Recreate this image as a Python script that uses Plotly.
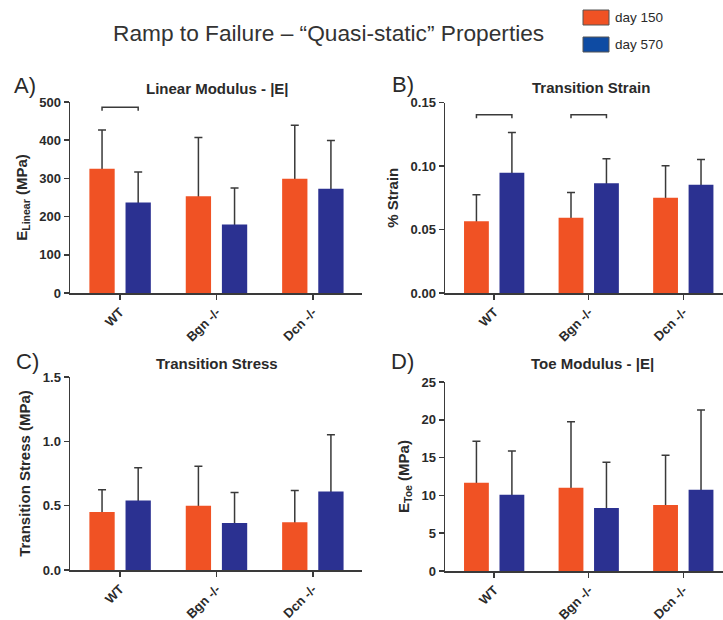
import plotly.graph_objects as go

# ---------------- data ----------------
categories = ["WT", "Bgn -/-", "Dcn -/-"]
series_names = ["day 150", "day 570"]

linear_d150 = [325, 253, 299]
linear_d150_sd = [102, 154, 140]
linear_d570 = [237, 179, 273]
linear_d570_sd = [80, 96, 126]

strain_d150 = [0.0564, 0.0593, 0.0750]
strain_d150_sd = [0.0210, 0.0199, 0.0252]
strain_d570 = [0.0947, 0.0865, 0.0852]
strain_d570_sd = [0.0317, 0.0192, 0.0200]

stress_d150 = [0.450, 0.499, 0.372]
stress_d150_sd = [0.173, 0.308, 0.246]
stress_d570 = [0.540, 0.365, 0.610]
stress_d570_sd = [0.254, 0.238, 0.442]

toe_d150 = [11.68, 11.02, 8.73]
toe_d150_sd = [5.47, 8.73, 6.57]
toe_d570 = [10.10, 8.33, 10.76]
toe_d570_sd = [5.77, 6.04, 10.54]

# significance brackets: (category index, level)
linear_brackets = [(0, 486)]
strain_brackets = [(0, 0.1403), (1, 0.1403)]

# ---------------- style ----------------
W, H = 723, 620
FONT = "Liberation Sans, Arial, sans-serif"
TXT = "#2a2a2a"
AX = "#3a3a3a"
ORANGE = "#F05224"
BLUE = "#2B3191"
LEG_BLUE = "#0E4BA3"
ERR = "#3a3a3a"


def fx(px):
    return px / W


def fy(px):
    return 1 - px / H


panels = [
    dict(title="Linear Modulus - |E|", label="A)", ytitle="E<sub>Linear</sub> (MPa)",
         d1=linear_d150, e1=linear_d150_sd, d2=linear_d570, e2=linear_d570_sd,
         yrange=[0, 500], dtick=100, fmt="d",
         xdom=(70, 362), ydom=(102, 293), xrange=[-0.52, 2.51],
         title_xy=(217, 88), label_xy=(25, 85), brackets=linear_brackets, drop=9),
    dict(title="Transition Strain", label="B)", ytitle="% Strain",
         d1=strain_d150, e1=strain_d150_sd, d2=strain_d570, e2=strain_d570_sd,
         yrange=[0, 0.15], dtick=0.05, fmt=".2f",
         xdom=(445, 723), ydom=(102.5, 293), xrange=[-0.52, 2.42],
         title_xy=(591, 87), label_xy=(403, 84), brackets=strain_brackets, drop=0.0027),
    dict(title="Transition Stress", label="C)", ytitle="Transition Stress (MPa)",
         d1=stress_d150, e1=stress_d150_sd, d2=stress_d570, e2=stress_d570_sd,
         yrange=[0, 1.5], dtick=0.5, fmt=".1f",
         xdom=(70, 362), ydom=(377, 570), xrange=[-0.52, 2.51],
         title_xy=(217, 363), label_xy=(27, 361), brackets=[], drop=0),
    dict(title="Toe Modulus - |E|", label="D)", ytitle="E<sub>Toe</sub> (MPa)",
         d1=toe_d150, e1=toe_d150_sd, d2=toe_d570, e2=toe_d570_sd,
         yrange=[0, 25], dtick=5, fmt="d",
         xdom=(445, 723), ydom=(382, 571), xrange=[-0.52, 2.42],
         title_xy=(592, 363), label_xy=(402, 361), brackets=[], drop=0),
]

fig = go.Figure()
annotations = []
shapes = []
xs = list(range(len(categories)))

for i, p in enumerate(panels):
    n = "" if i == 0 else str(i + 1)
    xa, ya = "x" + n, "y" + n
    series = [(p["d1"], p["e1"], series_names[0], ORANGE),
              (p["d2"], p["e2"], series_names[1], BLUE)]
    # error bars first (transparent bars), so the real bars cover their lower half
    for vals, errs, name, col in series:
        fig.add_trace(go.Bar(
            x=xs, y=vals, name=name, xaxis=xa, yaxis=ya, showlegend=False,
            offsetgroup=name, hoverinfo="skip",
            marker=dict(color="rgba(0,0,0,0)", line=dict(width=0)),
            error_y=dict(type="data", symmetric=False, array=errs, arrayminus=vals,
                         color=ERR, thickness=1.5, width=4),
        ))
    for vals, errs, name, col in series:
        fig.add_trace(go.Bar(
            x=xs, y=vals, name=name, xaxis=xa, yaxis=ya, showlegend=False,
            offsetgroup=name,
            marker=dict(color=col, line=dict(width=0)),
        ))
    fig.layout["xaxis" + n] = dict(
        domain=[fx(p["xdom"][0]), fx(p["xdom"][1])], anchor=ya, range=p["xrange"],
        tickvals=xs, ticktext=categories, tickangle=-45,
        showline=True, linecolor=AX, linewidth=1.5, ticks="outside", ticklen=5,
        tickwidth=1.5, tickcolor=AX, showgrid=False, zeroline=False, automargin=False,
        tickfont=dict(family=FONT, size=13, color=TXT, weight="bold"), fixedrange=True,
    )
    fig.layout["yaxis" + n] = dict(
        domain=[fy(p["ydom"][1]), fy(p["ydom"][0])], anchor=xa, range=p["yrange"],
        dtick=p["dtick"], tick0=0, tickformat=p["fmt"],
        showline=True, linecolor=AX, linewidth=1.5, ticks="outside", ticklen=5,
        tickwidth=1.5, tickcolor=AX, showgrid=False, zeroline=False, automargin=False,
        tickfont=dict(family=FONT, size=13, color=TXT, weight="bold"),
        title=dict(text=p["ytitle"], standoff=8,
                   font=dict(family=FONT, size=15, color=TXT, weight="bold")),
    )
    annotations.append(dict(
        text=p["title"], x=fx(p["title_xy"][0]), y=fy(p["title_xy"][1]),
        xref="paper", yref="paper", xanchor="center", yanchor="middle", showarrow=False,
        font=dict(family=FONT, size=15, color=TXT, weight="bold")))
    annotations.append(dict(
        text=p["label"], x=fx(p["label_xy"][0]), y=fy(p["label_xy"][1]),
        xref="paper", yref="paper", xanchor="center", yanchor="middle", showarrow=False,
        font=dict(family=FONT, size=22, color=TXT)))
    for (ci, lvl) in p["brackets"]:
        x0, x1 = ci - 0.1875, ci + 0.1875
        y1 = lvl - p["drop"]
        shapes.append(dict(type="path", xref=xa, yref=ya,
                           path=f"M {x0},{y1} L {x0},{lvl} L {x1},{lvl} L {x1},{y1}",
                           line=dict(color=AX, width=1.5)))

# main title
annotations.append(dict(
    text="Ramp to Failure \u2013 \u201cQuasi-static\u201d Properties",
    x=fx(328), y=fy(33), xref="paper", yref="paper", xanchor="center", yanchor="middle",
    showarrow=False, font=dict(family=FONT, size=22.7, color="#333333")))

# legend swatches
for name, col, top in [(series_names[0], ORANGE, 10), (series_names[1], LEG_BLUE, 37)]:
    shapes.append(dict(type="rect", xref="paper", yref="paper",
                       x0=fx(583), x1=fx(609), y0=fy(top + 15), y1=fy(top),
                       fillcolor=col, line=dict(color="#555555", width=1)))
    annotations.append(dict(text=name, x=fx(613), y=fy(top + 7.5), xref="paper", yref="paper",
                            xanchor="left", yanchor="middle", showarrow=False,
                            font=dict(family=FONT, size=13.5, color=TXT)))

fig.update_layout(
    width=W, height=H, margin=dict(l=0, r=0, t=0, b=0),
    paper_bgcolor="white", plot_bgcolor="white",
    barmode="group", bargap=0.25, bargroupgap=0.3,
    annotations=annotations, shapes=shapes, showlegend=False,
    font=dict(family=FONT, color=TXT), hovermode=False,
)

fig.write_html(
    "out.html",
    config={"displayModeBar": False, "staticPlot": True},
    post_script="document.body.style.margin='0';document.body.style.padding='0';"
                "document.body.style.overflow='hidden';",
)
